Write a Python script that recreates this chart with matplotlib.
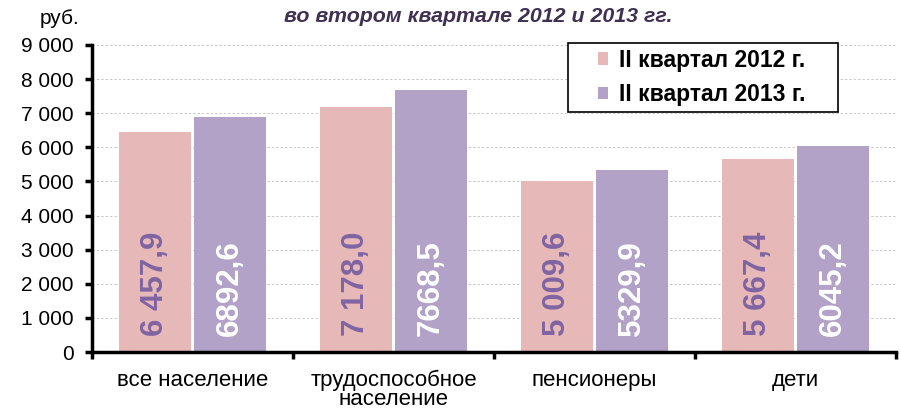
import matplotlib.pyplot as plt
from matplotlib.patches import Rectangle
import numpy as np

plt.rcParams['font.family'] = ['Liberation Sans', 'DejaVu Sans']

# data
categories = ['все население', 'трудоспособное\nнаселение', 'пенсионеры', 'дети']
q2_2012 = [6457.9, 7178.0, 5009.6, 5667.4]
q2_2013 = [6892.6, 7668.5, 5329.9, 6045.2]
labels_2012 = ['6 457,9', '7 178,0', '5 009,6', '5 667,4']
labels_2013 = ['6892,6', '7668,5', '5329,9', '6045,2']
series_names = ['II квартал 2012 г.', 'II квартал 2013 г.']
yticks = [0, 1000, 2000, 3000, 4000, 5000, 6000, 7000, 8000, 9000]
ytick_labels = ['0', '1 000', '2 000', '3 000', '4 000', '5 000', '6 000', '7 000', '8 000', '9 000']

pink = '#E6B9B8'
purple = '#B3A2C7'

fig = plt.figure(figsize=(9.01, 4.13), dpi=100)
ax = fig.add_axes([92 / 901, 1 - 352 / 413, (896 - 92) / 901, (352 - 45) / 413])

x = np.arange(len(categories))
w = 0.356
off = 0.186
ax.bar(x - off, q2_2012, w, color=pink, label=series_names[0], zorder=2)
ax.bar(x + off, q2_2013, w, color=purple, label=series_names[1], zorder=2)

# value labels inside bars, rotated
for i in range(len(categories)):
    ax.text(x[i] - off, 480, labels_2012[i], rotation=90, ha='center', va='bottom',
            fontsize=22.5, fontweight='bold', color='#8064A2', zorder=3)
    ax.text(x[i] + off, 480, labels_2013[i], rotation=90, ha='center', va='bottom',
            fontsize=22.5, fontweight='bold', color='white', zorder=3)

ax.set_xlim(-0.5, len(categories) - 0.5)
ax.set_ylim(0, 9000)
ax.set_yticks(yticks)
ax.set_yticklabels(ytick_labels, fontsize=15)
ax.yaxis.grid(True, linestyle=(0, (2.5, 2)), color='#C8C8C8', linewidth=0.7, zorder=0)
ax.set_axisbelow(True)

# category labels centered, tick marks between categories
ax.set_xticks(x)
ax.set_xticklabels(categories, fontsize=16, linespacing=0.88)
ax.tick_params(axis='x', length=0, pad=13)
ax.set_xticks(np.arange(len(categories) + 1) - 0.5, minor=True)
ax.tick_params(axis='x', which='minor', length=5, width=2.5, color='black')
ax.tick_params(axis='y', length=5, width=2.5, pad=8)

for s in ['top', 'right']:
    ax.spines[s].set_visible(False)
for s in ['left', 'bottom']:
    ax.spines[s].set_linewidth(2.5)

# legend box drawn separately (wide horizontal padding)
fig.patches.append(Rectangle((568 / 901, 1 - 112 / 413), 270 / 901, 69 / 413,
                             transform=fig.transFigure, facecolor='white',
                             edgecolor='black', linewidth=1.2, zorder=4))
leg = fig.legend(loc='center left', bbox_to_anchor=(598 / 901, 1 - 77.5 / 413),
                 prop={'size': 16.5, 'weight': 'bold'}, frameon=False,
                 handlelength=0.45, handleheight=0.45, handletextpad=0.45,
                 labelspacing=0.5, borderaxespad=0, borderpad=0)
leg.set_zorder(5)

fig.text(40 / 901, 1 - 18 / 413, 'руб.', fontsize=15, ha='left', va='center')
fig.text(478 / 901, 1 - 17 / 413, 'во втором квартале 2012 и 2013 гг.', fontsize=15.4,
         fontweight='bold', fontstyle='italic', color='#403152', ha='center', va='center')

fig.savefig('out.png', dpi=100)
